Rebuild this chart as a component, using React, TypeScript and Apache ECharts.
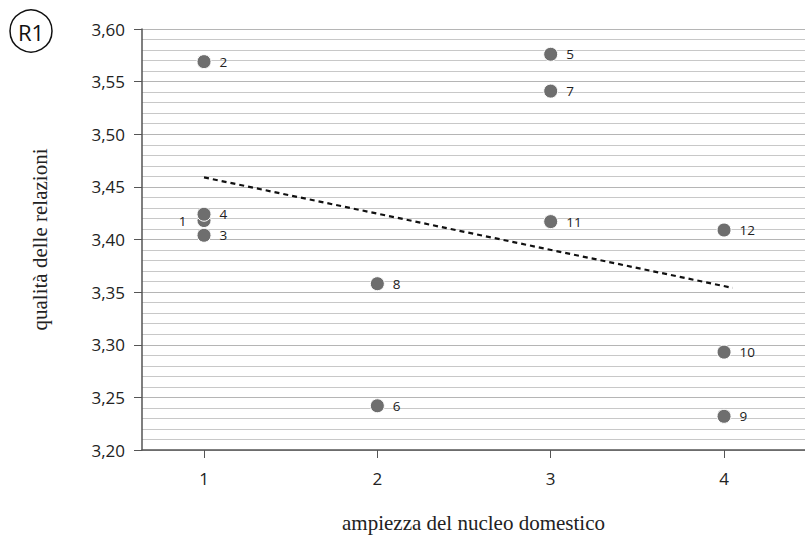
import React, { useEffect, useRef } from "react";
import * as echarts from "echarts";

const pointIds = ["1", "2", "3", "4", "5", "6", "7", "8", "9", "10", "11", "12"];
const householdSize = [1, 1, 1, 1, 3, 2, 3, 2, 4, 4, 3, 4];
const relationQuality = [3.418, 3.569, 3.404, 3.424, 3.576, 3.242, 3.541, 3.358, 3.232, 3.293, 3.417, 3.409];
const labelLeftIds = ["1"];
const trendX = [1, 4.05];
const trendY = [3.459, 3.354];
const xTicks = [1, 2, 3, 4];
const xAxisTitle = "ampiezza del nucleo domestico";
const yAxisTitle = "qualità delle relazioni";
const panelTag = "R1";

export default function App() {
  const ref = useRef<HTMLDivElement>(null);
  useEffect(() => {
    if (!ref.current) return;
    const chart = echarts.init(ref.current, null, { renderer: "svg" });
    const sans = "'Open Sans', 'Noto Sans', sans-serif";
    const serif = "'Liberation Serif', 'DejaVu Serif', serif";
    const points = pointIds.map((id, i) => ({
      value: [householdSize[i], relationQuality[i]],
      name: id,
      label: {
        position: labelLeftIds.includes(id) ? "left" : "right",
        distance: labelLeftIds.includes(id) ? 10 : 8,
      },
    }));
    chart.setOption({
      animation: false,
      grid: { left: 142, top: 29, right: 0, bottom: 85, outerBoundsMode: "none", containLabel: false },
      xAxis: {
        type: "value",
        min: 0.6423,
        max: 4.467,
        axisLine: { show: true, lineStyle: { color: "#555", width: 1.5 } },
        axisTick: { show: true, customValues: xTicks, length: 8, lineStyle: { color: "#555" } },
        axisLabel: {
          customValues: xTicks,
          margin: 20,
          fontSize: 17,
          color: "#222",
          fontFamily: sans,
        },
        splitLine: { show: false },
        name: xAxisTitle,
        nameLocation: "middle",
        nameGap: 62,
        nameTextStyle: { fontFamily: serif, fontSize: 21, color: "#222" },
      },
      yAxis: {
        type: "value",
        min: 3.2,
        max: 3.6,
        interval: 0.05,
        axisLine: { show: true, lineStyle: { color: "#555", width: 1.5 } },
        axisTick: { show: true, length: 8, inside: false, lineStyle: { color: "#555" } },
        axisLabel: {
          margin: 17,
          fontSize: 17,
          color: "#222",
          fontFamily: sans,
          formatter: (v: number) => v.toFixed(2).replace(".", ","),
        },
        splitLine: { show: true, lineStyle: { color: "#b5b5b5", width: 1 } },
        minorTick: { show: false, splitNumber: 5 },
        minorSplitLine: { show: true, lineStyle: { color: "#c8c8c8", width: 1 } },
        name: yAxisTitle,
        nameLocation: "middle",
        nameGap: 92,
        nameRotate: 90,
        nameTextStyle: { fontFamily: serif, fontSize: 21, color: "#222" },
      },
      graphic: [
        {
          type: "circle",
          shape: { cx: 31, cy: 31, r: 21 },
          style: { fill: "none", stroke: "#111", lineWidth: 1.5 },
        },
        {
          type: "text",
          x: 31,
          y: 32,
          style: {
            text: panelTag,
            fontSize: 22,
            fontFamily: sans,
            fill: "#111",
            align: "center",
            verticalAlign: "middle",
          },
        },
      ],
      series: [
        {
          type: "line",
          data: trendX.map((x, i) => [x, trendY[i]]),
          symbol: "none",
          lineStyle: { color: "#111", width: 2.2, type: [5, 4] },
          z: 3,
        },
        {
          type: "scatter",
          data: points,
          symbolSize: 14,
          itemStyle: { color: "#6e6e6e", borderColor: "#fff", borderWidth: 1, opacity: 1 },
          label: {
            show: true,
            formatter: "{b}",
            fontSize: 13.5,
            color: "#222",
            fontFamily: sans,
          },
          z: 4,
        },
      ],
    });
    return () => chart.dispose();
  }, []);
  return (
    <div
      ref={ref}
      style={{ position: "fixed", left: 0, top: 0, width: 805, height: 535, background: "#fff" }}
    />
  );
}
